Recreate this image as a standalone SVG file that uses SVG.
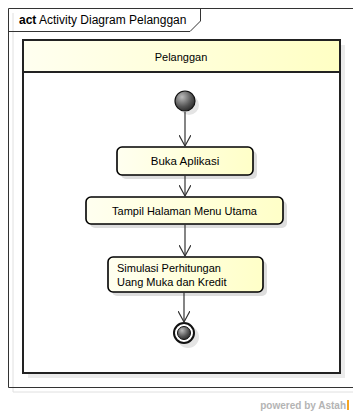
<svg xmlns="http://www.w3.org/2000/svg" width="353" height="412" viewBox="0 0 353 412">
<style>
text{font-family:"Liberation Sans",Arial,sans-serif;font-size:11px;fill:#000}
.act{fill:url(#g);stroke:#000;stroke-width:1.6}
.sh{fill:#ddd;stroke:none}
.flow{stroke:#333;stroke-width:1.2;fill:none}
</style>
<defs>
<linearGradient id="g" x1="0" y1="0" x2="1" y2="0">
<stop offset="0" stop-color="#fffff0"/><stop offset="1" stop-color="#ffffc8"/>
</linearGradient>
<linearGradient id="hg" x1="0" y1="0" x2="1" y2="0">
<stop offset="0" stop-color="#fffff0"/><stop offset="1" stop-color="#ffffc4"/>
</linearGradient>
<radialGradient id="sg" cx="0.35" cy="0.3" r="0.8">
<stop offset="0" stop-color="#bbb"/><stop offset="0.6" stop-color="#555"/><stop offset="1" stop-color="#222"/>
</radialGradient>
<marker id="arr" viewBox="0 0 12 12" refX="11" refY="6" markerWidth="12" markerHeight="12" markerUnits="userSpaceOnUse" orient="auto">
<path d="M0,0 L11,6 L0,12" fill="none" stroke="#333" stroke-width="1.2"/>
</marker>
</defs>
<g id="frame">
<path d="M13,392 H353 M13,13 V392" stroke="#e0e0e0" stroke-width="1" fill="none"/>
<path d="M8.5,8.5 H353 M8.5,8.5 V387.5 H353" stroke="#333" stroke-width="1" fill="none"/>
<path d="M8.5,31.5 H190 L200.5,21 V8.5" stroke="#333" stroke-width="1" fill="none"/>
<text x="19" y="24" style="font-size:12px"><tspan font-weight="bold">act</tspan> Activity Diagram Pelanggan</text>
</g>
<g id="swimlane">
<rect x="28" y="45" width="317" height="333" class="sh" fill-opacity="0.6"/>
<rect x="23" y="40" width="317" height="333" fill="#fff" stroke="#222" stroke-width="2"/>
<rect x="23" y="40" width="317" height="32" fill="url(#hg)" stroke="#222" stroke-width="2"/>
<text x="181" y="61" text-anchor="middle">Pelanggan</text>
</g>
<g id="start">
<circle cx="189" cy="105" r="10" fill="#e4e4e4"/>
<circle cx="185" cy="101" r="10" fill="url(#sg)" stroke="#111" stroke-width="1.2"/>
</g>
<g id="buka">
<rect x="121" y="151" width="136" height="28" rx="5" class="sh"/>
<rect x="117" y="147" width="136" height="28" rx="5" class="act"/>
<text x="185" y="165" text-anchor="middle" style="font-size:11.5px">Buka Aplikasi</text>
</g>
<g id="tampil">
<rect x="90" y="201" width="197" height="27" rx="5" class="sh"/>
<rect x="86" y="197" width="197" height="27" rx="5" class="act"/>
<text x="184.5" y="214.5" text-anchor="middle">Tampil Halaman Menu Utama</text>
</g>
<g id="simulasi">
<rect x="112" y="261" width="155" height="35" rx="5" class="sh"/>
<rect x="108" y="257" width="155" height="35" rx="5" class="act"/>
<text x="117" y="272">Simulasi Perhitungan</text>
<text x="117" y="286">Uang Muka dan Kredit</text>
</g>
<g id="final">
<circle cx="188" cy="337" r="11" fill="#e4e4e4"/>
<circle cx="184" cy="333" r="10" fill="#fff" stroke="#111" stroke-width="2"/>
<circle cx="184" cy="333" r="6.5" fill="url(#sg)" stroke="#111" stroke-width="1"/>
</g>
<g id="connectors">
<line x1="185" y1="112" x2="185" y2="146" class="flow" marker-end="url(#arr)"/>
<line x1="185" y1="175" x2="185" y2="196" class="flow" marker-end="url(#arr)"/>
<line x1="185" y1="224" x2="185" y2="256" class="flow" marker-end="url(#arr)"/>
<line x1="184" y1="292" x2="184" y2="322" class="flow" marker-end="url(#arr)"/>
</g>
<g id="watermark">
<text x="346" y="409" text-anchor="end" font-weight="bold" style="fill:#b4b4b4;font-size:10px">powered by Astah</text>
<rect x="347" y="400" width="2" height="10" fill="#f5a623"/>
</g>
</svg>
